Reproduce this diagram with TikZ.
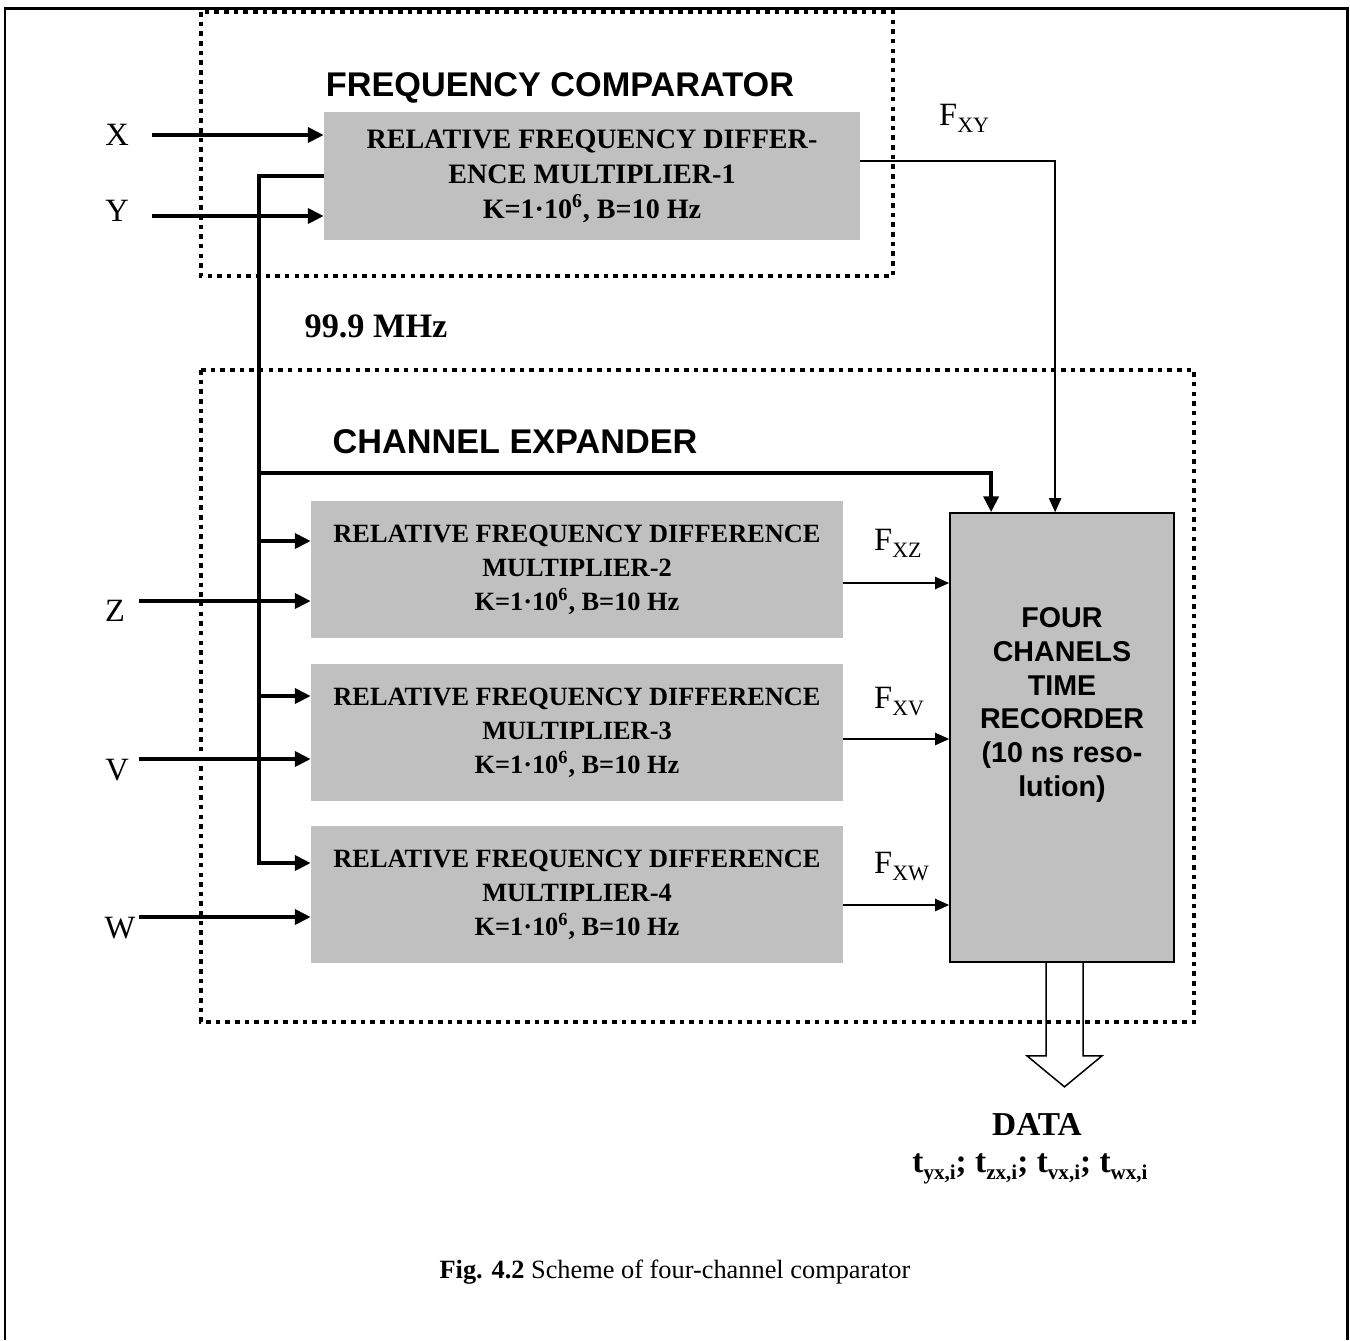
\documentclass[tikz,border=0pt]{standalone}
\usepackage{fontspec}
\setmainfont{Liberation Serif}
\setsansfont{Liberation Sans}
\usetikzlibrary{arrows.meta}
\definecolor{boxgray}{RGB}{192,192,192}
\newcommand{\fsig}[1]{F\raisebox{-4pt}{\fontsize{12.5}{12.5}\selectfont #1}}
\newcommand{\tsub}[1]{t\raisebox{-4.5pt}{\fontsize{12}{12}\selectfont #1}}

\begin{document}
\begin{tikzpicture}[x=0.02cm,y=-0.02cm,
    thickline/.style={line width=2.1pt},
    thinline/.style={line width=0.85pt},
    bigtip/.style={-{Triangle[length=9pt,width=8.5pt]}},
    smalltip/.style={-{Triangle[length=8pt,width=7pt]}},
    dotbox/.style={line width=2.6pt,dash pattern=on 2.6pt off 2.9pt}]
  \useasboundingbox (0,0) rectangle (1350,1340);
  \draw[line width=1.7pt] (5,1340) |- (1347,8) -- (1347,1340);
  % dotted frames
  \draw[dotbox] (201,12) rectangle (893,276);
  \draw[dotbox] (201,370) rectangle (1194,1022);
  \begin{scope}[every node/.style={font=\sffamily\bfseries\fontsize{19.5}{23}\selectfont}]
    \node (fc) at (560,88) {FREQUENCY COMPARATOR};
    \node (ce) at (515,442) {CHANNEL EXPANDER};
  \end{scope}
  \begin{scope}[every node/.style={rectangle,fill=boxgray,align=center,inner sep=0pt,
      minimum width=10.64cm,minimum height=2.74cm,font=\bfseries\fontsize{15}{19.3}\selectfont}]
    \node[minimum width=10.72cm,minimum height=2.56cm,font=\bfseries\fontsize{16}{20}\selectfont]
      (m1) at (592,176) {RELATIVE FREQUENCY DIFFER-\\ENCE MULTIPLIER-1\\K=1·10\textsuperscript{6}, B=10 Hz};
    \node (m2) at (577,569.5) {RELATIVE FREQUENCY DIFFERENCE\\MULTIPLIER-2\\K=1·10\textsuperscript{6}, B=10 Hz};
    \node (m3) at (577,732.5) {RELATIVE FREQUENCY DIFFERENCE\\MULTIPLIER-3\\K=1·10\textsuperscript{6}, B=10 Hz};
    \node (m4) at (577,894.5) {RELATIVE FREQUENCY DIFFERENCE\\MULTIPLIER-4\\K=1·10\textsuperscript{6}, B=10 Hz};
  \end{scope}
  \node[draw,line width=1pt,fill=boxgray,inner sep=0pt,minimum width=4.48cm,minimum height=8.98cm]
    (rec) at (1062,737.5) {};
  \node[align=center,font=\sffamily\bfseries\fontsize{16.3}{19.3}\selectfont]
    (rectext) at (1062,705) {FOUR\\CHANELS\\TIME\\RECORDER\\(10 ns reso-\\lution)};
  % inputs and signal labels
  \begin{scope}[every node/.style={font=\fontsize{18.5}{22}\selectfont}]
    \node (X) at (117,135) {X};
    \node (Y) at (117,211) {Y};
    \node (Z) at (115,611) {Z};
    \node (V) at (117,770) {V};
    \node (W) at (120,928) {W};
    \node[anchor=base west] (fxy) at (933,125) {\fsig{XY}};
    \node[anchor=base west] (fxz) at (868,550) {\fsig{XZ}};
    \node[anchor=base west] (fxv) at (868,708) {\fsig{XV}};
    \node[anchor=base west] (fxw) at (868,873) {\fsig{XW}};
  \end{scope}
  \node[font=\bfseries\fontsize{19.5}{23}\selectfont] (freq) at (376,326) {99.9 MHz};
  \coordinate (xin) at (152,135);
  \coordinate (yin) at (152,216);
  \coordinate (zin) at (139,601);
  \coordinate (vin) at (139,759);
  \coordinate (win) at (139,917);
  \coordinate (b1) at (259,473);
  \coordinate (b2) at (259,541);
  \coordinate (b3) at (259,696);
  \coordinate (b4) at (259,863);
  % thick connectors
  \draw[thickline,bigtip] (xin) -- (xin -| m1.west);
  \draw[thickline,bigtip] (yin) -- (yin -| m1.west);
  \draw[thickline,bigtip] (zin) -- (zin -| m2.west);
  \draw[thickline,bigtip] (vin) -- (vin -| m3.west);
  \draw[thickline,bigtip] (win) -- (win -| m4.west);
  \draw[thickline,bigtip] (m1.west) -| (b4) -- (b4 -| m4.west);
  \draw[thickline,bigtip] (b2) -- (b2 -| m2.west);
  \draw[thickline,bigtip] (b3) -- (b3 -| m3.west);
  \draw[thickline,bigtip] (b1) -| ([xshift=0.84cm]rec.north west);
  % thin connectors
  \draw[thinline,smalltip] ([yshift=0.3cm]m1.east) -| ([xshift=2.12cm]rec.north west);
  \draw[thinline,smalltip] ([yshift=-0.27cm]m2.east) -- ([yshift=-0.27cm]m2.east -| rec.west);
  \draw[thinline,smalltip] ([yshift=-0.13cm]m3.east) -- ([yshift=-0.13cm]m3.east -| rec.west);
  \draw[thinline,smalltip] ([yshift=-0.21cm]m4.east) -- ([yshift=-0.21cm]m4.east -| rec.west);
  % data output
  \draw[line width=0.85pt] ([xshift=-0.32cm]rec.south) -- ++(0,93) -- ++(-19,0) -- ++(37.5,31)
    -- ++(37.5,-31) -- ++(-19,0) -- ++(0,-93);
  \node[font=\bfseries\fontsize{19}{23}\selectfont] (data) at (1037,1124) {DATA};
  \node[anchor=base,font=\bfseries\fontsize{19}{23}\selectfont] (times) at (1030,1172)
    {\tsub{yx,i}; \tsub{zx,i}; \tsub{vx,i}; \tsub{wx,i}};
  \node[font=\fontsize{15}{18}\selectfont] (cap) at (675,1272) {\textbf{Fig. 4.2} Scheme of four-channel comparator};
\end{tikzpicture}
\end{document}
